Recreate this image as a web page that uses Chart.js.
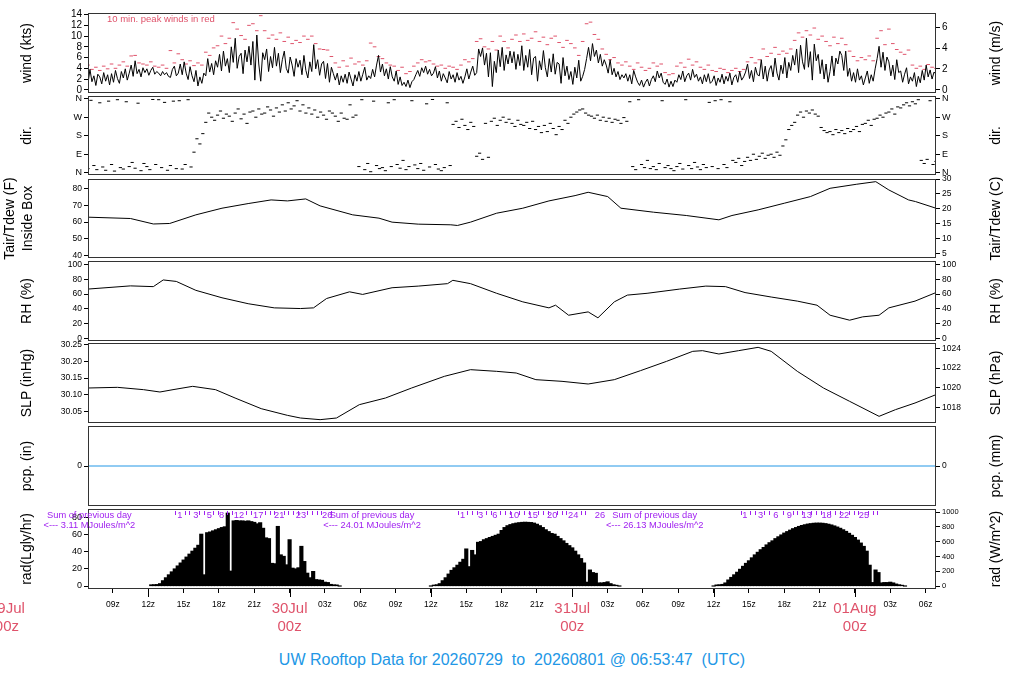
<!DOCTYPE html>
<html><head><meta charset="utf-8">
<script src="https://cdn.jsdelivr.net/npm/chart.js@4.4.1/dist/chart.umd.min.js"></script>
<style>
html,body{margin:0;padding:0;background:#fff;}
body{width:1024px;height:700px;position:relative;overflow:hidden;}
canvas{position:absolute;left:0;}
#title{position:absolute;left:0;top:651px;width:1024px;text-align:center;color:#2297E6;font-size:16px;line-height:18px;font-family:"Liberation Sans",Arial,sans-serif;white-space:pre;}
</style></head><body>
<div id="title">UW Rooftop Data for 20260729  to  20260801 @ 06:53:47  (UTC)</div>
<script>
// ---------- time axis (hours since 29 Jul 00z) ----------
const X_MIN = 6.883, X_MAX = 78.883;
const xTickHours = [9,12,15,18,21,24,27,30,33,36,39,42,45,48,51,54,57,60,63,66,69,72,75,78];
const majorTickHours = [12,24,36,48,60,72];
const dayNames = ['29Jul','30Jul','31Jul','01Aug'];

// ---------- wind speed (kts), 10-minute samples from X_MIN ----------
const windStep = 1/6;
const windKts = [
1.2,3.8,1.5,2.6,0.8,2.9, 2.4,1.1,3.2,1.6,2.8,0.9, 3.0,1.4,3.6,2.1,1.2,3.4, 2.2,3.9,1.8,3.1,4.6,2.5,
5.4,3.0,3.8,2.4,4.1,3.2, 3.9,2.7,3.6,4.2,2.9,3.4, 3.1,2.6,3.4,2.8,3.2,2.5, 2.3,3.8,4.4,2.6,3.1,4.8,
2.8,5.2,3.1,1.9,4.3,2.6, 1.5,3.6,0.7,2.4,1.2,3.1, 2.6,5.8,3.3,4.9,2.8,5.4, 4.2,6.6,3.5,7.2,4.4,5.8,
3.2,8.0,5.1,9.6,4.0,6.2, 6.8,3.0,7.4,5.2,8.1,4.6, 9.0,1.8,10.2,4.8,1.6,6.9, 5.6,7.6,3.4,6.2,4.1,7.9,
4.4,6.8,3.2,5.6,7.2,4.0, 3.1,6.1,4.6,2.5,5.8,4.2, 5.5,2.8,6.4,3.6,2.2,5.2, 3.4,8.4,3.9,5.6,2.7,4.8,
5.3,2.1,4.9,1.4,4.2,3.0, 1.8,3.1,0.9,2.6,1.4,2.9, 1.2,3.3,2.0,0.7,2.8,1.6, 3.4,1.6,2.9,4.2,1.8,2.6,
2.1,3.8,2.4,4.6,6.4,3.3, 4.8,2.6,3.9,2.0,4.3,2.4, 1.6,3.5,1.0,2.4,0.8,1.4, 0.6,1.8,0.4,1.5,1.9,2.8,
3.6,2.5,4.1,3.2,4.4,2.9, 3.8,2.6,3.1,4.3,2.2,3.5, 1.6,3.0,2.2,1.3,3.4,2.0, 2.8,1.4,3.2,1.8,2.5,1.2,
2.4,3.9,2.0,3.3,4.4,2.7, 3.2,7.6,6.2,7.8,4.6,6.8, 2.4,6.9,0.6,5.3,3.2,7.4, 4.3,7.9,3.6,6.5,4.8,7.2,
5.0,7.1,3.8,6.6,4.5,8.2, 3.6,6.4,4.2,7.5,2.8,5.9, 6.2,1.6,5.4,3.7,7.3,4.1, 2.4,5.8,3.3,6.7,2.9,5.1,
4.8,1.2,6.0,2.6,4.4,1.9, 3.4,1.0,4.2,2.2,5.5,1.6, 2.5,3.8,5.8,7.9,5.4,8.6, 6.2,7.4,5.0,6.6,4.4,5.6,
4.6,3.1,5.6,2.8,4.0,2.4, 3.4,1.9,2.8,2.2,3.0,1.6, 2.8,1.1,3.6,2.4,1.4,0.8, 1.8,0.5,1.4,2.0,0.7,1.9,
2.6,1.5,3.5,2.2,3.1,1.4, 1.0,2.0,0.5,1.6,0.6,1.8, 1.4,2.8,1.9,3.5,1.5,2.6, 3.1,1.8,3.8,2.3,2.9,1.6,
2.4,1.1,2.8,1.5,3.0,1.2, 1.6,2.6,0.8,2.2,1.4,2.9, 1.1,2.5,1.6,3.1,0.9,2.3, 2.8,1.4,3.4,1.8,2.4,3.3,
4.8,2.1,3.6,1.5,4.2,2.8, 2.6,5.6,2.0,4.4,1.6,3.7, 4.5,2.4,5.9,3.1,1.8,4.6, 3.0,6.0,2.2,5.1,3.6,6.4,
4.6,7.6,3.2,8.3,5.2,3.8, 9.6,4.2,7.1,1.8,8.5,5.4, 6.6,3.0,5.6,2.0,4.8,1.4, 3.4,6.3,2.6,5.9,4.8,7.2,
6.4,3.6,7.2,2.5,4.0,1.6, 3.2,1.4,3.9,1.8,2.6,0.9, 2.2,3.5,1.2,2.8,1.6,3.9, 5.8,8.1,4.2,7.0,3.6,6.1,
5.2,2.6,4.6,1.9,5.6,3.2, 3.5,1.4,2.9,4.1,1.1,2.4, 1.6,3.2,0.6,2.5,1.3,3.6, 1.8,4.6,2.4,3.7,2.0,3.3,
2.9];

// ---------- 10-min peak wind (kts), 20-minute samples ----------
const peakStep = 1/3;
const peakKts = [
4.6,3.8,4.2, 3.6,4.4,3.9, 4.8,4.0,4.6, 5.2,4.4,6.3, 6.4,5.0,4.8, 4.6,5.2,4.4, 4.2,4.6,4.0, 7.3,5.0,6.7,
5.6,4.8,5.4, 4.5,5.0,4.6, 7.0,6.4,7.8, 8.2,10.0,8.6, 9.6,12.5,11.3, 10.1,9.4,12.0, 12.3,11.0,13.8, 11.0,9.6,10.2,
9.4,10.6,9.0, 9.8,8.6,9.2, 8.8,10.0,9.4, 10.0,8.6,7.6, 7.5,7.4,6.2, 5.0,4.2,5.4, 4.4,5.9,4.8, 5.2,4.6,5.4,
8.7,8.0,6.2, 5.8,5.0,4.6, 4.4,3.6,4.2, 3.0,3.4,4.4, 5.0,5.6,5.2, 5.4,4.8,4.4, 4.6,4.0,4.4, 4.2,3.8,4.6,
5.6,5.2,5.8, 9.0,9.5,8.0, 7.6,9.0,7.4, 10.0,9.0,7.8, 9.4,10.2,9.0, 10.4,9.2,9.6, 10.8,9.0,9.8, 8.4,9.6,10.0,
8.8,7.9,9.2, 8.6,7.8,6.4, 9.0,12.3,12.6, 10.3,9.4,7.6, 6.6,5.6,6.0, 5.0,4.6,5.2, 4.4,3.8,5.0, 4.2,3.6,4.0,
5.0,4.4,4.8, 3.2,2.8,3.0, 4.4,5.0,4.2, 5.7,4.6,5.2, 4.2,3.8,4.6, 3.6,3.4,4.0, 3.8,3.2,3.6, 4.0,3.4,3.8,
5.2,6.0,5.0, 5.6,7.6,6.2, 6.8,7.9,6.6, 7.2,6.8,7.6, 9.2,10.6,9.8, 11.0,10.2,11.5, 9.4,10.0,9.0, 8.2,9.8,8.6,
9.6,8.4,7.2, 6.2,5.4,6.0, 5.6,6.3,5.4, 9.6,11.0,8.4, 11.3,8.6,7.5, 7.0,6.6,7.4, 4.6,4.0,4.4, 3.8,4.7,4.2,
4.0];

// ---------- wind direction (deg), 15-minute samples ----------
const dirStep = 0.25;
const dirDeg = [
20,352,35,15, 340,28,12,348, 40,8,355,25, 18,345,30,50, 22,338,10,45, 30,15,356,40, 355,25,342,12, 35,348,20,350,
18,40,355,28, 100,165,140,190, 245,290,270,255, 280,300,265,285, 275,250,290,310, 262,285,240,295, 300,270,310,285, 290,320,305,275,
315,295,330,300, 340,310,325,350, 300,330,290,315, 285,305,270,295, 280,260,300,290, 275,250,290,265, 260,330,270,280, 30,355,15,45,
5,348,35,20, 25,10,340,30, 355,40,22,60, 15,30,350,38, 20,45,12,335, 28,356,40,18, 10,25,340,35, 235,250,220,260,
230,210,245,225, 80,95,65,240, 75,250,265,230, 255,270,245,260, 240,225,255,235, 230,245,215,250, 210,225,195,230, 200,240,215,185,
225,210,255,240, 270,285,295,305, 310,290,280,275, 265,280,255,270, 250,265,245,260, 255,240,268,250, 345,30,15,355, 40,25,60,20,
30,15,45,350, 25,35,20,10, 30,45,18,355, 35,20,50,28, 15,40,25,342, 30,350,20,355, 40,25,345,60, 50,70,35,55,
75,60,90,65, 80,95,70,85, 90,75,100,85, 130,160,210,230, 245,280,295,270, 300,290,305,285, 275,220,205,195, 200,185,210,195,
205,190,215,200, 210,225,200,235, 240,255,230,260, 265,280,270,290, 295,310,285,320, 315,330,340,325, 345,335,355,60, 45,65,350,40,
55];

// ---------- inside-box temperature (F) ----------
const tempHours = [6.88,10.49,12.43,13.82,16.04,18.26,20.48,22.43,23.82,25.37,26.59,29.36,31.59,32.70,34.92,37.69,38.25,39.36,41.58,43.80,46.02,48.24,49.35,51.01,52.13,54.90,57.68,60.45,61.56,63.78,66.00,68.22,69.89,72.11,73.77,74.88,76.55,77.14,78.88];
const tempF     = [63.0,62.2,58.9,59.2,64.4,68.4,71.2,73.4,72.8,74.0,69.8,64.4,62.4,60.0,58.8,58.4,58.0,60.0,65.4,68.4,72.8,76.0,78.0,75.4,68.4,66.0,64.0,61.4,64.0,67.4,71.4,75.4,80.4,82.8,84.4,79.4,73.4,72.4,68.4];

// ---------- relative humidity (%) ----------
const rhHours = [6.88,10.49,12.43,13.27,14.38,16.04,18.26,20.48,22.70,24.92,26.03,27.14,29.09,30.20,32.70,34.92,37.41,37.86,39.36,41.58,43.80,46.02,46.58,47.69,49.35,50.18,51.57,52.68,54.35,57.12,59.34,61.01,62.67,64.89,67.11,68.78,69.89,71.55,72.66,74.05,74.88,77.10,78.88];
const rhPct   = [66.7,71.0,70.0,79.0,77.0,65.0,55.0,47.0,41.4,40.5,41.4,54.0,63.0,59.5,68.5,70.7,74.0,78.5,74.0,61.0,49.5,41.4,45.0,31.5,36.0,28.0,49.5,58.6,61.0,66.7,70.7,70.0,62.0,56.0,50.5,45.0,31.5,24.8,29.3,31.5,41.4,50.5,62.0];

// ---------- sea level pressure (inHg) ----------
const slpHours = [6.88,9.38,11.60,12.99,14.10,15.77,17.71,19.37,21.59,23.81,24.92,26.59,27.98,29.92,32.14,34.36,37.14,39.36,41.58,43.24,44.91,47.13,49.35,51.57,53.79,56.01,58.23,59.06,60.45,62.12,63.78,64.89,67.11,69.33,71.55,74.05,75.44,77.10,78.88];
const slpInHg  = [30.120,30.122,30.115,30.108,30.115,30.125,30.115,30.090,30.058,30.038,30.030,30.025,30.030,30.070,30.090,30.120,30.155,30.175,30.170,30.165,30.145,30.140,30.132,30.145,30.172,30.200,30.230,30.232,30.222,30.232,30.242,30.230,30.170,30.120,30.080,30.035,30.055,30.075,30.100];

// ---------- precipitation (in) ----------
const pcpHours = [6.883,78.883];
const pcpIn = [0,0];

// ---------- solar radiation (W/m^2), 15-minute samples per day ----------
const radStep = 0.25;
const radDay1Start = 12.25;
const radDay1 = [14,16,18,30,70,110,150,190,230,270,310,350,390,430,470,510,550,700,150,720,730,745,760,775,790,800,985,200,880,885,880,880,875,880,870,860,840,855,780,650,640,305,300,805,420,400,285,625,240,230,245,535,330,172,110,195,85,80,75,50,45,20,14,12,0];
const radDay2Start = 36.0;
const radDay2 = [0,10,15,30,70,110,160,210,245,280,320,360,500,260,480,420,590,600,625,640,655,670,685,700,750,790,815,830,842,850,856,860,862,860,858,850,835,815,790,760,735,710,700,670,640,610,575,545,515,470,420,370,310,50,215,180,170,40,40,45,55,30,15,8,0];
const radDay3Start = 60.0;
const radDay3 = [0,12,15,20,40,80,115,150,185,225,265,305,340,380,420,455,490,520,555,585,610,640,665,690,715,735,755,775,790,805,818,828,837,843,848,850,850,848,843,835,825,812,797,780,760,738,712,685,655,620,580,535,470,280,45,215,180,40,45,45,50,40,25,15,8,0];

// daily radiation sums and running-total labels
const radSumHours = [7,31,55];
const radSumValues = ['3.11','24.01','26.13'];
const radCumHours = [[14.69,16.03,17.18,18.23,19.70,21.34,23.12,24.96,27.20],[38.69,40.22,41.43,43.05,44.64,46.30,48.08,50.35],[62.66,63.99,65.29,66.42,67.90,69.59,71.08,72.76]];
const radCumLabels = [['1','3','5','8','12','17','21','23','26'],['1','3','6','10','15','20','24','26'],['1','3','6','9','13','18','22','25']];
const radCumTickRanges = [[14.3,27.6],[38.3,49.2],[62.3,74.2]];
const radCumTickStep = 0.4;

// ---------- helpers ----------
const FONT = '"Liberation Sans", Arial, Helvetica, sans-serif';
const RED = '#DF536B', BLUE = '#2297E6', PURPLE = '#A020F0';
const KT_PER_MS = 1.9438, W_PER_LGLY = 11.63, HPA_PER_INHG = 33.8639, MM_PER_IN = 25.4;

const seriesFrom = (start, step, vals) => vals.map((v, i) => ({x: start + i * step, y: v}));
const pairs = (xs, ys) => xs.map((x, i) => ({x: x, y: ys[i]}));

function yAx(pos, min, max, ticks, size, fmt) {
  return {
    type: 'linear', position: pos, min: min, max: max,
    afterFit: s => { s.width = 88; },
    afterBuildTicks: s => { s.ticks = ticks.map(v => ({value: v})); },
    grid: {drawOnChartArea: false, tickLength: 4, color: '#000', tickColor: '#000', tickWidth: 1},
    border: {display: false},
    ticks: {autoSkip: false, color: '#000', padding: 2, font: {size: size, family: FONT, lineHeight: 1}, callback: fmt || (v => String(v))}
  };
}
const xHidden = () => ({type: 'linear', min: X_MIN, max: X_MAX, display: false});

const framePlugin = {
  id: 'frame',
  afterDraw(chart) {
    const {ctx, chartArea: a} = chart;
    ctx.save();
    ctx.strokeStyle = '#333'; ctx.lineWidth = 1;
    ctx.strokeRect(Math.round(a.left) + 0.5, Math.round(a.top) + 0.5, Math.round(a.right - a.left) - 1, Math.round(a.bottom - a.top) - 1);
    ctx.restore();
  }
};
function sideTitles(left, leftX, right) {
  return {
    id: 'sideTitles',
    afterDraw(chart) {
      const {ctx, chartArea: a} = chart;
      const cy = (a.top + a.bottom) / 2;
      ctx.save();
      ctx.fillStyle = '#000'; ctx.font = '14px ' + FONT;
      ctx.textAlign = 'center'; ctx.textBaseline = 'middle';
      const put = (t, x) => { ctx.save(); ctx.translate(x, cy); ctx.rotate(-Math.PI / 2); ctx.fillText(t, 0, 0); ctx.restore(); };
      left.forEach((t, i) => put(t, leftX[i]));
      put(right, 996);
      ctx.restore();
    }
  };
}
function makeChart(areaTop, areaBottom, cfg, extraBottom) {
  const padTop = 10, padBottom = extraBottom ? 0 : 10;
  const h = (areaBottom - areaTop) + padTop + (extraBottom || padBottom);
  const c = document.createElement('canvas');
  c.width = 1024; c.height = h;
  c.style.width = '1024px'; c.style.height = h + 'px';
  c.style.top = (areaTop - padTop) + 'px';
  document.body.appendChild(c);
  cfg.options = Object.assign({
    responsive: false, animation: false, events: [],
    layout: {padding: {left: 0, right: 0, top: padTop, bottom: padBottom}},
  }, cfg.options);
  cfg.options.plugins = Object.assign({legend: {display: false}, tooltip: {enabled: false}, title: {display: false}}, cfg.options.plugins || {});
  return new Chart(c, cfg);
}
const lineDs = (data, color) => ({data: data, borderColor: color || '#000', borderWidth: 1, pointRadius: 0, tension: 0, fill: false});

// ---------- 1. wind ----------
const windNote = {
  id: 'windNote',
  afterDraw(chart) {
    const {ctx, chartArea: a} = chart;
    ctx.save(); ctx.fillStyle = RED; ctx.font = '9.5px ' + FONT;
    ctx.textAlign = 'left'; ctx.textBaseline = 'middle';
    ctx.fillText('10 min. peak winds in red', a.left + 19, a.top + 6);
    ctx.restore();
  }
};
makeChart(13, 93, {
  type: 'line',
  data: {datasets: [
    lineDs(seriesFrom(X_MIN, windStep, windKts)),
    {data: seriesFrom(X_MIN, peakStep, peakKts), showLine: false, pointStyle: 'line', pointRadius: 1.8, pointBorderColor: RED, borderColor: RED, pointBorderWidth: 1}
  ]},
  options: {scales: {
    x: xHidden(),
    y: yAx('left', -0.6, 14.3, [0,2,4,6,8,10,12,14], 10),
    y2: yAx('right', -0.6 / KT_PER_MS, 14.3 / KT_PER_MS, [0,2,4,6], 10)
  }},
  plugins: [framePlugin, sideTitles(['wind (kts)'], [27], 'wind (m/s)'), windNote]
});

// ---------- 2. direction ----------
const dirFmt = v => ({0: 'N', 90: 'E', 180: 'S', 270: 'W', 360: 'N'})[v];
makeChart(96, 175, {
  type: 'line',
  data: {datasets: [
    {data: seriesFrom(X_MIN, dirStep, dirDeg), showLine: false, pointStyle: 'line', pointRadius: 1.6, pointBorderColor: '#000', borderColor: '#000', pointBorderWidth: 1}
  ]},
  options: {scales: {
    x: xHidden(),
    y: yAx('left', -11, 373, [0,90,180,270,360], 9, dirFmt),
    y2: yAx('right', -11, 373, [0,90,180,270,360], 9, dirFmt)
  }},
  plugins: [framePlugin, sideTitles(['dir.'], [27], 'dir.')]
});

// ---------- 3. temperature ----------
makeChart(179, 258, {
  type: 'line',
  data: {datasets: [lineDs(pairs(tempHours, tempF))]},
  options: {scales: {
    x: xHidden(),
    y: yAx('left', 38.4, 86, [40,50,60,70,80], 8.5),
    y2: yAx('right', (38.4 - 32) / 1.8, (86 - 32) / 1.8, [5,10,15,20,25,30], 8.5)
  }},
  plugins: [framePlugin, sideTitles(['Tair/Tdew (F)', 'Inside Box'], [10, 28], 'Tair/Tdew (C)')]
});

// ---------- 4. relative humidity ----------
makeChart(261, 341, {
  type: 'line',
  data: {datasets: [lineDs(pairs(rhHours, rhPct))]},
  options: {scales: {
    x: xHidden(),
    y: yAx('left', -3.2, 104.5, [0,20,40,60,80,100], 8.5),
    y2: yAx('right', -3.2, 104.5, [0,20,40,60,80,100], 8.5)
  }},
  plugins: [framePlugin, sideTitles(['RH (%)'], [27], 'RH (%)')]
});

// ---------- 5. sea level pressure ----------
makeChart(343, 423, {
  type: 'line',
  data: {datasets: [lineDs(pairs(slpHours, slpInHg))]},
  options: {scales: {
    x: xHidden(),
    y: yAx('left', 30.015, 30.255, [30.05,30.10,30.15,30.20,30.25], 8.5, v => v.toFixed(2)),
    y2: yAx('right', 30.015 * HPA_PER_INHG, 30.255 * HPA_PER_INHG, [1018,1020,1022,1024], 8.5)
  }},
  plugins: [framePlugin, sideTitles(['SLP (inHg)'], [27], 'SLP (hPa)')]
});

// ---------- 6. precipitation ----------
makeChart(426, 506, {
  type: 'line',
  data: {datasets: [lineDs(pairs(pcpHours, pcpIn), BLUE)]},
  options: {scales: {
    x: xHidden(),
    y: yAx('left', -1, 1, [0], 8.5),
    y2: yAx('right', -MM_PER_IN, MM_PER_IN, [0], 8.5)
  }},
  plugins: [framePlugin, sideTitles(['pcp. (in)'], [27], 'pcp. (mm)')]
});

// ---------- 7. radiation ----------
const radText = {
  id: 'radText',
  afterDraw(chart) {
    const {ctx, chartArea: a} = chart;
    const xs = chart.scales.x;
    ctx.save();
    ctx.fillStyle = PURPLE; ctx.strokeStyle = PURPLE; ctx.lineWidth = 1;
    ctx.font = '9.3px ' + FONT; ctx.textAlign = 'center'; ctx.textBaseline = 'middle';
    radSumHours.forEach((h, i) => {
      const x = xs.getPixelForValue(h);
      ctx.fillText('Sum of previous day', x, a.top + 6);
      ctx.fillText('<--- ' + radSumValues[i] + ' MJoules/m^2', x, a.top + 16.5);
    });
    radCumHours.forEach((hs, d) => {
      hs.forEach((h, i) => ctx.fillText(radCumLabels[d][i], xs.getPixelForValue(h), a.top + 6));
      const [h0, h1] = radCumTickRanges[d];
      for (let t = h0; t <= h1 + 1e-6; t += radCumTickStep) {
        if (hs.some(h => Math.abs(h - t) < 0.25)) continue;
        const x = Math.round(xs.getPixelForValue(t)) + 0.5;
        ctx.beginPath(); ctx.moveTo(x, a.top + 2); ctx.lineTo(x, a.top + 6); ctx.stroke();
      }
    });
    // longer tick marks at 00z / 12z
    ctx.strokeStyle = '#000';
    majorTickHours.forEach(h => {
      const x = Math.round(xs.getPixelForValue(h)) + 0.5;
      ctx.beginPath(); ctx.moveTo(x, a.bottom); ctx.lineTo(x, a.bottom + 8); ctx.stroke();
    });
    // day label whose midnight lies left of the plotted window
    ctx.fillStyle = RED; ctx.font = '15px ' + FONT;
    dayNames.forEach((name, d) => {
      if (d * 24 >= X_MIN) return;
      const x = xs.getPixelForValue(d * 24);
      ctx.fillText(name, x, a.bottom + 19.5);
      ctx.fillText('00z', x, a.bottom + 37.5);
    });
    ctx.restore();
  }
};
const radData = [].concat(
  seriesFrom(radDay1Start, radStep, radDay1),
  seriesFrom(radDay2Start, radStep, radDay2),
  seriesFrom(radDay3Start, radStep, radDay3));
const isDay = c => c.tick && c.tick.value % 24 === 0;
makeChart(509, 589, {
  type: 'bar',
  data: {datasets: [{data: radData, yAxisID: 'y2', backgroundColor: '#000', borderWidth: 0, inflateAmount: 0.6, barPercentage: 1, categoryPercentage: 1}]},
  options: {scales: {
    x: {
      type: 'linear', min: X_MIN, max: X_MAX, offset: false,
      afterFit: s => { s.height = 61; },
      afterBuildTicks: s => { s.ticks = xTickHours.map(v => ({value: v})); },
      grid: {offset: false, drawOnChartArea: false, tickLength: 4, color: '#000', tickColor: '#000'},
      border: {display: false},
      ticks: {
        autoSkip: false, maxRotation: 0, minRotation: 0, padding: 6.5,
        color: c => isDay(c) ? RED : '#000',
        font: c => isDay(c) ? {size: 15, family: FONT, lineHeight: 1.2} : {size: 8.5, family: FONT, lineHeight: 1.2},
        callback: v => v % 24 === 0 ? [dayNames[v / 24], '00z'] : String(v % 24).padStart(2, '0') + 'z'
      }
    },
    y: yAx('left', -40.6 / W_PER_LGLY, 1042.6 / W_PER_LGLY, [0,20,40,60,80], 9),
    y2: yAx('right', -40.6, 1042.6, [0,200,400,600,800,1000], 7.5)
  }},
  plugins: [framePlugin, sideTitles(['rad(Lgly/hr)'], [27], 'rad (W/m^2)'), radText]
}, 61);
</script>
</body></html>
